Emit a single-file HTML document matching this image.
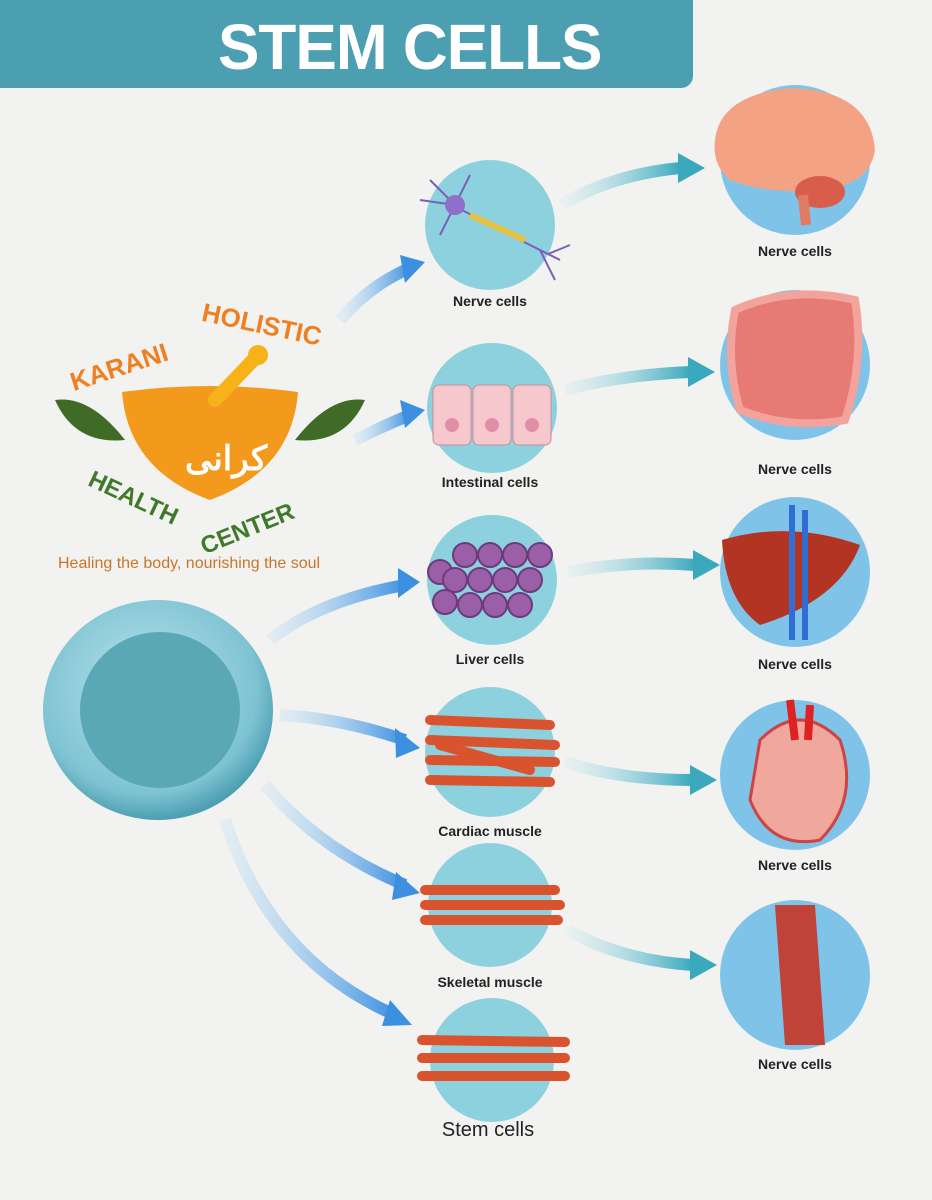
<!DOCTYPE html>
<html><head><meta charset="utf-8"><style>
html,body{margin:0;padding:0;width:932px;height:1200px;overflow:hidden;background:#f2f2f1;font-family:"Liberation Sans",sans-serif}
.hdr{position:absolute;left:0;top:0;width:693px;height:88px;background:#4b9fb1;border-bottom-right-radius:12px}
.hdr span{position:absolute;left:218px;top:10px;font-size:64px;font-weight:bold;color:#fff;letter-spacing:-1px;transform:scaleX(0.97);transform-origin:left}
.lbl{position:absolute;font-size:14px;font-weight:bold;color:#222;text-align:center;width:200px}
</style></head><body>
<div class="hdr"><span>STEM CELLS</span></div>
<svg width="932" height="1200" style="position:absolute;left:0;top:0">
<defs>
<linearGradient id="ag" x1="0" x2="1"><stop offset="0" stop-color="#bfe0f5" stop-opacity=".3"/><stop offset="1" stop-color="#3d90e0"/></linearGradient>
<linearGradient id="tg" x1="0" x2="1"><stop offset="0" stop-color="#d0ecf0" stop-opacity=".3"/><stop offset="1" stop-color="#3aa9bd"/></linearGradient>
<radialGradient id="sc" cx=".45" cy=".4" r=".6"><stop offset="0" stop-color="#b9e3ec"/><stop offset=".8" stop-color="#7ec3d2"/><stop offset="1" stop-color="#4d9fb3"/></radialGradient>
</defs>
<g fill="#8ed1de">
<circle cx="490" cy="225" r="65"/><circle cx="492" cy="408" r="65"/><circle cx="492" cy="580" r="65"/>
<circle cx="490" cy="752" r="65"/><circle cx="490" cy="905" r="62"/><circle cx="492" cy="1060" r="62"/>
</g>
<g fill="#7fc4e8">
<circle cx="795" cy="160" r="75"/><circle cx="795" cy="365" r="75"/><circle cx="795" cy="572" r="75"/>
<circle cx="795" cy="775" r="75"/><circle cx="795" cy="975" r="75"/>
</g>
<g stroke="#7a5fb8" stroke-width="2" fill="none"><path d="M420 200 L455 205 L430 180 M455 205 L470 175 M455 205 L440 235 M458 208 L520 240 L560 260 M540 250 L555 280 M548 254 L570 245"/></g>
<circle cx="455" cy="205" r="10" fill="#8e6fc9"/>
<path d="M470 215 L525 240" stroke="#e8c040" stroke-width="6"/>
<g fill="#f6c8ce" stroke="#c98a94"><rect x="433" y="385" width="38" height="60" rx="6"/><rect x="473" y="385" width="38" height="60" rx="6"/><rect x="513" y="385" width="38" height="60" rx="6"/></g>
<g fill="#e08fa8"><circle cx="452" cy="425" r="7"/><circle cx="492" cy="425" r="7"/><circle cx="532" cy="425" r="7"/></g>
<g fill="#9b5fa8" stroke="#6c3b7d" stroke-width="2">
<circle cx="440" cy="572" r="12"/><circle cx="465" cy="555" r="12"/><circle cx="490" cy="555" r="12"/><circle cx="515" cy="555" r="12"/><circle cx="540" cy="555" r="12"/>
<circle cx="455" cy="580" r="12"/><circle cx="480" cy="580" r="12"/><circle cx="505" cy="580" r="12"/><circle cx="530" cy="580" r="12"/>
<circle cx="445" cy="602" r="12"/><circle cx="470" cy="605" r="12"/><circle cx="495" cy="605" r="12"/><circle cx="520" cy="605" r="12"/></g>
<g stroke="#d9532f" stroke-width="10" stroke-linecap="round">
<path d="M430 720 L550 725"/><path d="M430 740 L555 745"/><path d="M430 760 L555 762"/><path d="M430 780 L550 782"/><path d="M440 745 L530 770"/>
<path d="M425 890 L555 890"/><path d="M425 905 L560 905"/><path d="M425 920 L558 920"/>
<path d="M422 1040 L565 1042"/><path d="M422 1058 L565 1058"/><path d="M422 1076 L565 1076"/>
</g>
<path d="M715 140 Q720 95 790 88 Q870 90 875 150 Q870 185 820 190 Q770 195 730 180 Q712 165 715 140Z" fill="#f3a384"/><ellipse cx="820" cy="192" rx="25" ry="16" fill="#d85d4a"/><path d="M803 195 L806 225" stroke="#e07a60" stroke-width="10"/>
<path d="M735 310 Q790 285 855 300 Q865 360 845 420 Q790 430 740 410 Q725 360 735 310Z" fill="#e77a74" stroke="#f2a39b" stroke-width="8"/>
<path d="M722 540 Q790 520 860 545 Q840 600 760 625 Q725 600 722 540Z" fill="#b43423"/><path d="M792 505 L792 640 M805 510 L805 640" stroke="#2f6fd2" stroke-width="6"/>
<path d="M760 740 Q800 700 840 740 Q860 800 820 840 Q770 850 750 800 Z" fill="#f1a89c" stroke="#c44" stroke-width="3"/><path d="M790 700 L795 740 M810 705 L808 740" stroke="#d22" stroke-width="8"/>
<path d="M775 905 L815 905 L825 1045 L785 1045 Z" fill="#c0433a"/>
<ellipse cx="158" cy="710" rx="115" ry="110" fill="url(#sc)"/>
<ellipse cx="160" cy="710" rx="80" ry="78" fill="#5aa7b5"/>
<g fill="none" stroke-width="12">
<path d="M340 320 Q370 285 410 268" stroke="url(#ag)"/>
<path d="M355 440 Q385 425 410 415" stroke="url(#ag)"/>
<path d="M270 640 Q320 600 405 585" stroke="url(#ag)"/>
<path d="M280 715 Q340 718 405 740" stroke="url(#ag)"/>
<path d="M265 785 Q320 850 405 885" stroke="url(#ag)"/>
<path d="M225 820 Q270 960 395 1015" stroke="url(#ag)"/>
<path d="M562 205 Q610 175 680 168" stroke="url(#tg)"/>
<path d="M565 390 Q620 375 690 372" stroke="url(#tg)"/>
<path d="M568 572 Q630 560 695 565" stroke="url(#tg)"/>
<path d="M565 762 Q620 780 692 780" stroke="url(#tg)"/>
<path d="M568 930 Q620 960 692 965" stroke="url(#tg)"/>
</g>
<g fill="#3d90e0">
<polygon points="425,262 400,255 405,283"/><polygon points="425,410 400,400 405,428"/><polygon points="420,582 398,568 398,598"/>
<polygon points="420,748 395,728 396,758"/><polygon points="420,893 396,872 392,900"/><polygon points="412,1025 390,1000 382,1026"/>
</g>
<g fill="#3aa9bd">
<polygon points="705,168 678,153 678,183"/><polygon points="715,372 688,357 688,387"/><polygon points="720,565 693,550 693,580"/>
<polygon points="717,780 690,765 690,795"/><polygon points="717,965 690,950 690,980"/>
</g>
<path d="M122 392 Q210 380 298 392 Q292 470 210 500 Q128 470 122 392Z" fill="#f39a1d"/>
<path d="M215 400 L258 355" stroke="#f7b21a" stroke-width="14" stroke-linecap="round"/>
<circle cx="258" cy="355" r="10" fill="#f7b21a"/>
<path d="M55 400 Q90 395 125 440 Q75 445 55 400Z" fill="#3f6b27"/>
<path d="M365 400 Q330 395 295 440 Q345 445 365 400Z" fill="#3f6b27"/>
<text x="185" y="470" font-size="34" fill="#fff" font-weight="bold" font-family="'Liberation Sans','Noto Sans CJK SC',sans-serif">كرانى</text>
<text x="68" y="385" font-size="26" font-weight="bold" fill="#f07f22" transform="rotate(-18 90 370)">KARANI</text>
<text x="200" y="333" font-size="26" font-weight="bold" fill="#f07f22" transform="rotate(12 260 330)">HOLISTIC</text>
<text x="90" y="490" font-size="24" font-weight="bold" fill="#3f7a2a" transform="rotate(25 100 480)">HEALTH</text>
<text x="195" y="535" font-size="24" font-weight="bold" fill="#3f7a2a" transform="rotate(-22 250 520)">CENTER</text>
<text x="58" y="568" font-size="16" fill="#c9762a">Healing the body, nourishing the soul</text>
</svg>
<div class="lbl" style="left:390px;top:293px">Nerve cells</div>
<div class="lbl" style="left:390px;top:474px">Intestinal cells</div>
<div class="lbl" style="left:390px;top:651px">Liver cells</div>
<div class="lbl" style="left:390px;top:823px">Cardiac muscle</div>
<div class="lbl" style="left:390px;top:974px">Skeletal muscle</div>
<div class="lbl" style="left:388px;top:1119px;font-size:20px;font-weight:normal">Stem cells</div>
<div class="lbl" style="left:695px;top:243px">Nerve cells</div>
<div class="lbl" style="left:695px;top:461px">Nerve cells</div>
<div class="lbl" style="left:695px;top:656px">Nerve cells</div>
<div class="lbl" style="left:695px;top:857px">Nerve cells</div>
<div class="lbl" style="left:695px;top:1056px">Nerve cells</div>
</body></html>
